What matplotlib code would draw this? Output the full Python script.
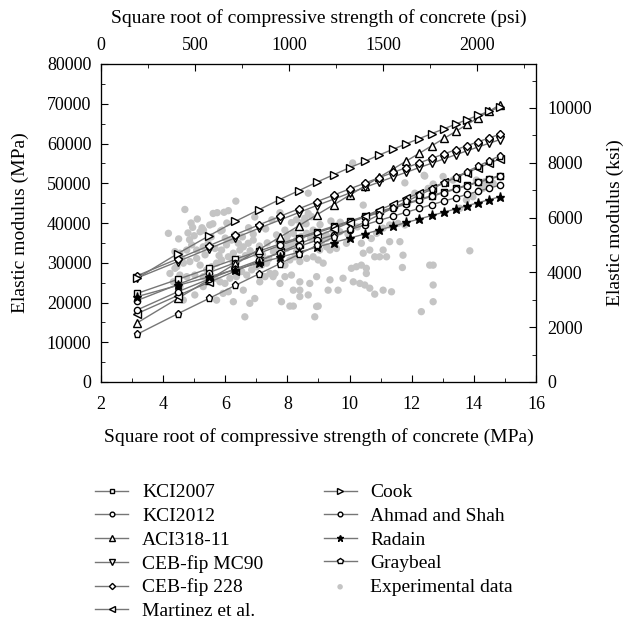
import matplotlib
matplotlib.use("Agg")
import matplotlib.pyplot as plt
from matplotlib.ticker import MultipleLocator

plt.rcParams['font.family'] = ['Liberation Serif', 'DejaVu Serif']
plt.rcParams['font.size'] = 14

# square root of compressive strength (MPa), fc = 10..220 MPa
sqrt_fc = [3.16, 4.47, 5.48, 6.32, 7.07, 7.75, 8.37, 8.94, 9.49, 10.0, 10.49,
           10.95, 11.40, 11.83, 12.25, 12.65, 13.04, 13.42, 13.78, 14.14, 14.49, 14.83]

kci2007 = [22280, 25810, 28580, 30890, 32900, 34700, 36320, 37810, 39190, 40480, 41690,
           42840, 43930, 44970, 45950, 46900, 47810, 48700, 49540, 50360, 51150, 51930]
kci2012 = [20490, 24520, 27540, 30010, 32320, 34350, 36010, 37520, 38920, 40230, 41460,
           42610, 43710, 44760, 45760, 46710, 47630, 48520, 49370, 50200, 51000, 51770]
aci318 = [14860, 21020, 25740, 29730, 33230, 36410, 39320, 42040, 44590, 47000, 49290,
          51490, 53590, 55610, 57560, 59450, 61280, 63060, 64790, 66470, 68110, 69710]
ceb_mc90 = [26160, 30310, 33550, 36260, 38630, 40730, 42640, 44390, 46000, 47520, 48940,
            50290, 51570, 52790, 53950, 55060, 56130, 57170, 58160, 59130, 60050, 60960]
ceb_228 = [26730, 30980, 34290, 37070, 39480, 41640, 43580, 45370, 47020, 48570, 50020,
           51410, 52710, 53960, 55140, 56280, 57380, 58440, 59450, 60440, 61380, 62310]
martinez = [17200, 21750, 25080, 27900, 30380, 32620, 34680, 36590, 38400, 40100, 41720,
            43270, 44750, 46180, 47560, 48890, 50190, 51440, 52660, 53850, 55010, 56100]
cook = [26100, 32300, 36800, 40400, 43300, 45900, 48150, 50250, 52150, 53900, 55500,
        57100, 58550, 59950, 61250, 62500, 63700, 64900, 66000, 67100, 68100, 69150]
ahmad_shah = [18120, 22700, 25900, 28440, 30580, 32450, 34110, 35630, 37020, 38310, 39520,
              40640, 41710, 42730, 43700, 44630, 45520, 46370, 47190, 47990, 48750, 49500]
radain = [21470, 24290, 26450, 28280, 29880, 31340, 32670, 33920, 35090, 36190, 37240,
          38240, 39210, 40130, 41030, 41890, 42730, 43550, 44340, 45110, 45860, 46590]
graybeal = [12000, 17170, 21030, 24290, 27150, 29740, 32130, 34340, 36430, 38400, 40270,
            42060, 43780, 45430, 47030, 48570, 50070, 51520, 52930, 54310, 55650, 56900]

# experimental data (sqrt fc in MPa, Ec in thousand MPa)
exp_x = [4.17, 4.70, 5.10, 4.95, 5.19, 5.61, 5.74, 5.96, 6.10, 6.34, 4.38, 4.54, 4.76, 4.92,
         5.08, 5.29, 5.45, 5.67, 5.88, 6.04, 6.20, 6.42, 6.58, 6.74, 6.90, 4.44, 4.65, 4.86,
         5.08, 5.19, 5.40, 5.56, 5.72, 5.88, 6.10, 6.26, 6.47, 4.22, 4.38, 4.54, 4.76, 5.02,
         5.29, 5.51, 5.67, 5.83, 5.99, 6.15, 6.36, 6.53, 6.69, 6.85, 7.01, 7.17, 7.33, 4.33,
         4.54, 4.65, 5.02, 5.29, 5.72, 5.93, 6.10, 6.26, 6.58, 6.79, 6.95, 7.11, 7.28, 7.44,
         7.60, 6.63,
         7.65, 7.81, 7.97, 8.13, 8.29, 8.45, 8.62, 8.83, 7.97, 8.19, 8.40, 8.56, 8.67, 8.78,
         8.51, 8.29, 8.13, 7.92, 7.76, 8.67, 7.76, 7.92, 8.08, 8.24, 8.40, 8.62, 8.83, 8.99,
         9.15, 9.37, 9.58, 7.54, 7.76, 7.92, 8.13, 8.40, 8.19, 8.40, 8.72, 8.94, 9.37, 7.81,
         8.08, 8.19, 8.40, 8.67, 8.94, 8.99, 8.88, 9.31, 9.63, 9.04, 9.26, 9.47, 9.69, 9.90,
         10.06, 9.47, 9.26, 9.10,
         9.79, 10.06, 10.22, 10.38, 10.54, 10.54, 10.12, 10.33, 10.49, 10.65, 10.81, 11.08,
         11.35, 10.44, 10.65, 10.81, 10.97, 11.08, 11.19, 11.29, 11.62, 11.72, 11.70, 10.44,
         10.38, 10.70, 10.87, 11.08, 11.29, 11.56, 11.78, 11.78, 12.10, 12.26, 12.42, 12.53,
         12.69, 12.58, 12.69, 12.69, 12.69, 12.31, 13.87, 13.01, 13.33, 13.55, 13.76, 13.97,
         14.19, 14.40, 14.51, 14.62, 14.08, 14.35, 14.29, 10.10, 12.40,
         4.60, 4.85, 5.35, 5.55, 5.80, 6.00, 6.25, 6.45, 6.65, 6.80, 7.00, 7.20, 7.40, 7.55,
         4.50, 4.80, 5.00, 5.25, 5.50, 5.85, 6.05, 6.30, 6.55, 6.90, 7.10, 7.35, 7.70, 8.00,
         8.85, 9.05, 9.25, 9.40, 8.60, 8.75, 7.30, 7.50, 6.75, 6.95, 5.30, 5.60, 5.90, 4.90,
         9.70, 9.95, 10.25, 8.05, 8.30, 7.65]
exp_y = [37.4, 43.4, 41.0, 38.9, 37.8, 42.4, 42.6, 42.7, 43.1, 45.5, 32.8, 32.4, 33.2, 34.5,
         33.2, 34.0, 34.9, 33.6, 33.2, 34.5, 35.7, 34.9, 34.0, 34.9, 35.7, 29.0, 29.9, 30.3,
         31.1, 29.4, 28.2, 29.0, 29.9, 30.7, 31.5, 32.4, 33.2, 27.3, 28.6, 26.9, 26.5, 26.9,
         26.5, 26.9, 26.1, 25.2, 24.8, 26.1, 26.5, 27.8, 26.9, 28.2, 29.0, 29.4, 29.9, 25.2,
         24.0, 20.6, 21.9, 24.0, 20.6, 22.3, 22.7, 20.2, 23.1, 19.8, 21.0, 25.2, 26.5, 27.3,
         27.3, 16.4,
         33.2, 32.4, 33.6, 34.9, 35.7, 36.6, 37.4, 38.2, 35.7, 37.4, 39.1, 41.2, 42.4, 41.6,
         40.3, 40.8, 40.1, 38.2, 42.6, 47.5, 30.7, 29.4, 30.7, 31.5, 30.3, 31.1, 31.5, 30.7,
         29.9, 33.2, 33.6, 26.5, 24.8, 26.5, 26.9, 25.2, 23.1, 23.1, 24.8, 26.5, 25.7, 20.2,
         19.1, 19.1, 21.5, 21.9, 19.0, 19.1, 16.4, 23.1, 23.1, 33.2, 34.0, 36.6, 37.8, 34.9,
         39.1, 38.2, 36.1, 35.3,
         26.1, 28.6, 29.0, 29.4, 28.6, 27.3, 25.2, 24.8, 24.4, 23.6, 22.1, 23.1,
         22.7, 32.4, 33.2, 31.5, 31.5, 33.2, 31.5, 35.3, 35.3, 31.9, 28.8, 44.5,
         34.9, 36.1, 37.4, 38.7, 39.5, 39.9, 39.5, 50.1, 47.5, 47.1, 51.8, 48.7,
         49.8, 29.4, 29.4, 24.4, 20.2, 17.7, 33.0, 51.7, 50.8, 43.7, 45.8, 46.6,
         48.3, 49.1, 49.6, 50.0, 50.8, 50.4, 48.7, 55.1, 52.0,
         31.0, 35.8, 32.0, 36.5, 31.8, 36.2, 30.2, 31.0, 31.8, 33.0, 32.2, 32.0, 31.0, 32.8,
         36.0, 37.5, 36.8, 38.8, 39.5, 38.0, 40.0, 37.0, 36.5, 37.2, 34.2, 35.0, 35.5, 36.8,
         37.8, 39.6, 37.0, 40.5, 39.8, 36.2, 38.5, 40.8, 38.8, 41.5, 38.2, 39.8, 38.2, 40.0,
         40.2, 37.2, 39.0, 34.2, 32.9, 37.0]

series = [
    ("KCI2007", kci2007, "s", 4.5),
    ("KCI2012", kci2012, "o", 4.5),
    ("ACI318-11", aci318, "^", 5.2),
    ("CEB-fip MC90", ceb_mc90, "v", 5.2),
    ("CEB-fip 228", ceb_228, "D", 4.2),
    ("Martinez et al.", martinez, "<", 5.2),
    ("Cook", cook, ">", 5.2),
    ("Ahmad and Shah", ahmad_shah, "o", 4.5),
    ("Radain", radain, "*", 6.5),
    ("Graybeal", graybeal, "p", 5.2),
]

fig = plt.figure(figsize=(6.28, 6.25), dpi=100)
ax = fig.add_axes([0.1608, 0.3888, 0.6927, 0.5088])

handles = []
for name, vals, mk, ms in series:
    fill = "black" if mk == "*" else "white"
    h, = ax.plot(sqrt_fc, vals, color="#767676", lw=1.0, marker=mk, ms=ms,
                 mfc=fill, mec="black", mew=1.0, label=name, zorder=3)
    handles.append(h)

sc = ax.scatter(exp_x, [v * 1000 for v in exp_y], s=28, color="#c4c4c4",
                edgecolors="none", label="Experimental data", zorder=2)

ax.set_xlim(2, 16)
ax.set_ylim(0, 80000)
ax.xaxis.set_major_locator(MultipleLocator(2))
ax.xaxis.set_minor_locator(MultipleLocator(1))
ax.yaxis.set_major_locator(MultipleLocator(10000))
ax.yaxis.set_minor_locator(MultipleLocator(5000))
ax.tick_params(which="both", direction="in", labelsize=13, pad=7)
ax.tick_params(axis="x", pad=10)
ax.tick_params(which="major", length=5)
ax.tick_params(which="minor", length=3)
ax.set_xlabel("Square root of compressive strength of concrete (MPa)", labelpad=11)
ax.set_ylabel("Elastic modulus (MPa)", labelpad=13)

top = ax.twiny()
top.set_xlim(0, 2315)
top.xaxis.set_major_locator(MultipleLocator(500))
top.xaxis.set_minor_locator(MultipleLocator(250))
top.tick_params(which="both", direction="in", labelsize=13, pad=7)
top.tick_params(which="major", length=5)
top.tick_params(which="minor", length=3)
top.set_xlabel("Square root of compressive strength of concrete (psi)", labelpad=10)

right = ax.twinx()
right.set_ylim(0, 80000 / 6.895)
right.yaxis.set_major_locator(MultipleLocator(2000))
right.yaxis.set_minor_locator(MultipleLocator(1000))
right.tick_params(which="both", direction="in", labelsize=13, pad=8)
right.tick_params(which="major", length=5)
right.tick_params(which="minor", length=3)
right.set_ylabel("Elastic modulus (ksi)", labelpad=11)

order = handles + [sc]
fig.legend(order, [h.get_label() for h in order], loc="upper left",
           bbox_to_anchor=(0.124, 0.254), ncol=2, frameon=False, markerscale=0.75,
           handlelength=1.7, labelspacing=0.31, columnspacing=3.1, handletextpad=0.7)

fig.savefig("out.png", dpi=100)
